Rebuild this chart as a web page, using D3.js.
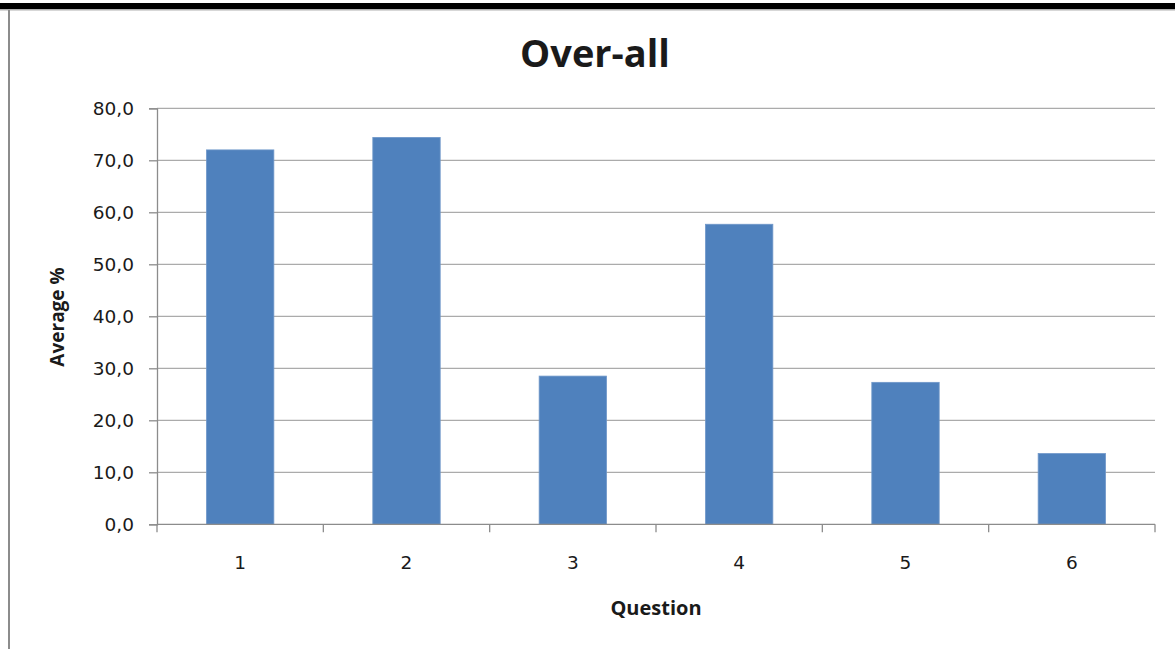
<!DOCTYPE html>
<html>
<head>
<meta charset="utf-8">
<script src="https://cdn.jsdelivr.net/npm/d3@7"></script>
<style>
  html, body { margin: 0; padding: 0; background: #fff; }
  svg { display: block; }
  text { font-family: "Open Sans", "Noto Sans", "DejaVu Sans", sans-serif; fill: #1a1a1a; }
</style>
</head>
<body>
<script>
// Chart data
const questions = ["1", "2", "3", "4", "5", "6"];
const averages = [72.0, 74.4, 28.5, 57.7, 27.3, 13.6];
const yTicks = [0, 10, 20, 30, 40, 50, 60, 70, 80];
const titleText = "Over-all";
const xTitle = "Question";
const yTitle = "Average %";

const W = 1175, H = 649;
const plot = { left: 157, right: 1155, top: 108.3, bottom: 524.3 };
const tickFont = "'DejaVu Sans', Verdana, sans-serif";

const svg = d3.select("body").append("svg").attr("width", W).attr("height", H);

// Frame edges
svg.append("rect").attr("x", 0).attr("y", 3).attr("width", W).attr("height", 6).attr("fill", "#000");
svg.append("rect").attr("x", 0).attr("y", 9).attr("width", W).attr("height", 1.5).attr("fill", "#b0b0b0");
svg.append("rect").attr("x", 8).attr("y", 10).attr("width", 2).attr("height", H - 10).attr("fill", "#8c8c8c");

const x = d3.scaleBand().domain(questions).range([plot.left, plot.right]).padding(0);
const y = d3.scaleLinear().domain([0, 80]).range([plot.bottom, plot.top]);

// Gridlines
svg.append("g").selectAll("line").data(yTicks.filter(d => d > 0)).join("line")
  .attr("x1", plot.left).attr("x2", plot.right)
  .attr("y1", d => y(d)).attr("y2", d => y(d))
  .attr("stroke", "#ababab").attr("stroke-width", 1.3);

// Bars
const barW = x.bandwidth() * 0.405;
svg.append("g").selectAll("rect").data(averages).join("rect")
  .attr("x", (d, i) => x(questions[i]) + x.bandwidth() / 2 - barW / 2)
  .attr("y", d => y(d))
  .attr("width", barW)
  .attr("height", d => y(0) - y(d))
  .attr("fill", "#4f81bd")
  .attr("stroke", "#6f97c9").attr("stroke-width", 0.8);

// Y axis
const yAxis = svg.append("g").attr("transform", `translate(${plot.left},0)`)
  .call(d3.axisLeft(y).tickValues(yTicks).tickSize(8).tickPadding(15)
    .tickFormat(d => d3.format(".1f")(d).replace(".", ",")));
yAxis.select(".domain").attr("stroke", "#8c8c8c").attr("stroke-width", 1.3);
yAxis.selectAll(".tick line").attr("stroke", "#8c8c8c").attr("stroke-width", 1.3);
yAxis.selectAll(".tick text").attr("font-size", 18.5).attr("fill", "#1a1a1a")
  .style("font-family", tickFont);

// X axis
const xTickScale = d3.scaleLinear().domain([0, questions.length]).range([plot.left, plot.right]);
const xAxis = svg.append("g").attr("transform", `translate(0,${plot.bottom})`);
xAxis.append("line").attr("x1", plot.left).attr("x2", plot.right)
  .attr("stroke", "#8c8c8c").attr("stroke-width", 1.3);
xAxis.selectAll("line.tk").data(d3.range(questions.length + 1)).join("line").attr("class", "tk")
  .attr("x1", d => xTickScale(d)).attr("x2", d => xTickScale(d))
  .attr("y1", 0).attr("y2", 8)
  .attr("stroke", "#8c8c8c").attr("stroke-width", 1.3);
xAxis.selectAll("text").data(questions).join("text")
  .attr("x", d => x(d) + x.bandwidth() / 2).attr("y", 45)
  .attr("text-anchor", "middle").attr("font-size", 18.5)
  .style("font-family", tickFont)
  .text(d => d);

// Titles
svg.append("text").attr("x", 595).attr("y", 67).attr("text-anchor", "middle")
  .attr("font-size", 38).attr("font-weight", "bold").attr("fill", "#000").text(titleText);
svg.append("text").attr("x", 656).attr("y", 615).attr("text-anchor", "middle")
  .attr("font-size", 20).attr("font-weight", "bold").attr("fill", "#000").text(xTitle);
svg.append("text").attr("transform", "translate(64,317) rotate(-90)").attr("text-anchor", "middle")
  .attr("font-size", 19).attr("font-weight", "bold").attr("fill", "#000").text(yTitle);
</script>
</body>
</html>
